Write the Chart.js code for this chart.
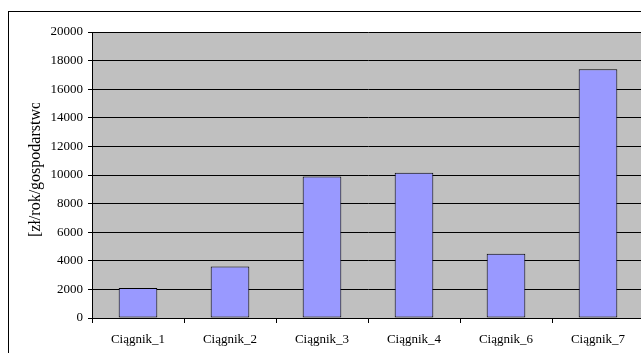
<!DOCTYPE html>
<html>
<head>
<meta charset="utf-8">
<script src="https://cdn.jsdelivr.net/npm/chart.js@4"></script>
<style>
  html, body { margin: 0; padding: 0; overflow: hidden; background: #fff; }
  #wrap { width: 660px; height: 353px; position: relative; }
</style>
</head>
<body>
<div id="wrap"><canvas id="c"></canvas></div>
<script>
// Annual cost per farm for each tractor
const categories = ['Ciągnik_1', 'Ciągnik_2', 'Ciągnik_3', 'Ciągnik_4', 'Ciągnik_6', 'Ciągnik_7'];
const costs = [2100, 3600, 9900, 10150, 4500, 17400];
const yTicks = [0, 2000, 4000, 6000, 8000, 10000, 12000, 14000, 16000, 18000, 20000];
const yTitle = '[zł/rok/gospodarstwo]';

const FONT = '"Liberation Serif", "Times New Roman", serif';

// Outer frame, gray plot background and the clipped vertical axis title
const decor = {
  id: 'decor',
  beforeDraw(chart) {
    const { ctx, chartArea: a } = chart;
    ctx.save();
    ctx.fillStyle = '#c0c0c0';
    ctx.fillRect(a.left, a.top, a.right - a.left, a.bottom - a.top);
    ctx.strokeStyle = '#000';
    ctx.lineWidth = 1;
    ctx.strokeRect(8.5, 11.5, chart.width + 20, chart.height + 20);
    ctx.restore();
  },
  afterDraw(chart) {
    const { ctx } = chart;
    ctx.save();
    ctx.beginPath();
    ctx.rect(0, 103, 90, 250);
    ctx.clip();
    ctx.translate(40, 237);
    ctx.rotate(-Math.PI / 2);
    ctx.font = '16px ' + FONT;
    ctx.fillStyle = '#000';
    ctx.textAlign = 'left';
    ctx.textBaseline = 'alphabetic';
    ctx.fillText(yTitle, 0, 0);
    ctx.restore();
  }
};

new Chart(document.getElementById('c'), {
  type: 'bar',
  data: {
    labels: categories,
    datasets: [{
      data: costs,
      backgroundColor: '#9999ff',
      borderColor: '#000',
      borderWidth: 1,
      borderSkipped: false,
      barPercentage: 0.42,
      categoryPercentage: 1
    }]
  },
  options: {
    responsive: true,
    maintainAspectRatio: false,
    animation: false,
    layout: { padding: { left: 0, top: 32, right: 16, bottom: 0 } },
    plugins: { legend: { display: false }, tooltip: { enabled: false } },
    scales: {
      x: {
        offset: true,
        afterFit(s) { s.height = 35; },
        grid: {
          offset: true,
          drawOnChartArea: false,
          drawTicks: true,
          tickLength: 5,
          color: '#000'
        },
        border: { color: '#000', width: 1 },
        ticks: { color: '#000', font: { family: FONT, size: 13 }, padding: 9, maxRotation: 0 }
      },
      y: {
        min: 0,
        max: 20000,
        afterFit(s) { s.width = 92; },
        afterBuildTicks(s) { s.ticks = yTicks.map(v => ({ value: v })); },
        grid: { color: '#000', lineWidth: 1, tickLength: 4 },
        border: { color: '#000', width: 1 },
        ticks: {
          color: '#000',
          font: { family: FONT, size: 13 },
          padding: 5,
          callback: v => String(v)
        }
      }
    }
  },
  plugins: [decor]
});
</script>
</body>
</html>
